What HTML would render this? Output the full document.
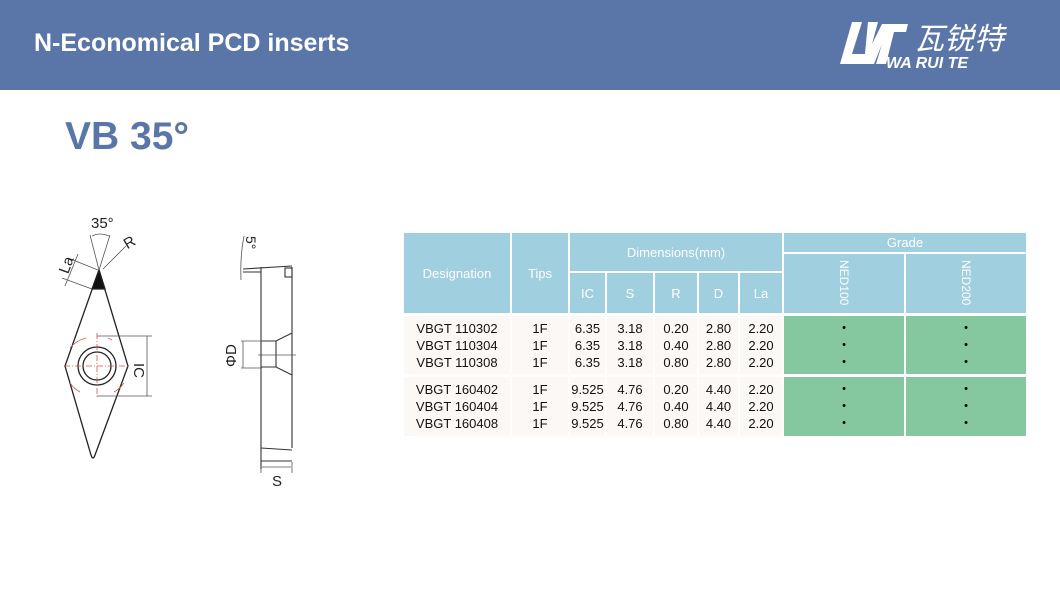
<!DOCTYPE html>
<html><head><meta charset="utf-8"><style>
body{margin:0;width:1060px;height:600px;background:#fff;position:relative;overflow:hidden;font-family:"Liberation Sans","Noto Sans CJK SC",sans-serif}
.hdr{position:absolute;left:0;top:0;width:1060px;height:90px;background:#5a76a8}
.hdr .t{position:absolute;left:34px;top:29px;color:#fff;font-size:25px;font-weight:bold}
.big{position:absolute;left:65px;top:115px;color:#5a76a8;font-size:39px;font-weight:bold}
.c{position:absolute;display:flex;align-items:center;justify-content:center;font-size:13px}
.h{background:#a0cfe0;color:#fff;font-size:13px}
.b{background:#fbf8f5;color:#111;flex-direction:column;line-height:17px}
.g{background:#85c8a0;flex-direction:column;line-height:17px;font-size:11px}
.v{writing-mode:vertical-rl;font-size:12px}
</style></head><body>
<div class="hdr"><div class="t">N-Economical PCD inserts</div>
<svg style="position:absolute;left:838px;top:14px" width="200" height="60">
<polygon points="14,8 24,8 14,40 30,40 27,50 2,50" fill="#fff"/>
<polygon points="30,8 40,8 34,30 44,10 70,10 68,18 56,18 48,50 38,50 44,30 36,50 26,50" fill="#fff"/>
<text x="76" y="35" fill="#fff" font-size="30" font-style="italic" font-family="Noto Sans CJK SC,sans-serif">瓦锐特</text>
<text x="48" y="54" fill="#fff" font-size="16" font-weight="bold" font-style="italic">WA RUI TE</text>
</svg></div>
<div class="big">VB 35°</div>
<svg style="position:absolute;left:0;top:0" width="400" height="600" font-family="Liberation Sans,sans-serif">
<g stroke="#222" fill="none" stroke-width="1.3">
<path d="M99,270 L128,366 L95,455 Q93,461 91,455 L65,366 Z"/>
<polygon points="99,270 105,289 92,289" fill="#111"/>
<circle cx="97" cy="366" r="19"/><circle cx="97" cy="366" r="14"/>
</g>
<g stroke="#555" stroke-width="0.8" fill="none">
<line x1="99" y1="270" x2="90" y2="235"/><line x1="99" y1="270" x2="110" y2="235"/>
<path d="M92,236 Q100,232 109,236"/>
<line x1="103" y1="269" x2="126" y2="246"/>
<line x1="92" y1="289" x2="62" y2="278"/><line x1="98" y1="270" x2="68" y2="258"/>
<line x1="65" y1="286" x2="78" y2="254"/>
<line x1="97" y1="336" x2="152" y2="336"/><line x1="97" y1="396" x2="152" y2="396"/>
<line x1="147" y1="336" x2="147" y2="396"/>
</g>
<g stroke="#e05050" stroke-width="0.8" fill="none">
<line x1="64" y1="366" x2="130" y2="366" stroke-dasharray="6,2,1,2"/>
<line x1="97" y1="333" x2="97" y2="399" stroke-dasharray="6,2,1,2"/>
<path d="M70,348 A30,30 0 0 1 86,338"/><path d="M108,338 A30,30 0 0 1 112,340"/>
<path d="M70,383 A30,30 0 0 0 80,392"/><path d="M114,392 A30,30 0 0 0 124,383"/>
</g>
<text x="91" y="228" font-size="15" fill="#222">35°</text>
<text x="124" y="247" font-size="15" fill="#222" transform="rotate(-30 130 242)">R</text>
<text x="58" y="276" font-size="15" fill="#222" transform="rotate(-70 62 268)">La</text>
<text x="137" y="380" font-size="15" fill="#222" transform="rotate(90 144 370)">IC</text>
<g stroke="#333" stroke-width="1.1" fill="none">
<line x1="261" y1="267" x2="261" y2="469"/><line x1="292" y1="267" x2="292" y2="448"/>
<line x1="243" y1="269" x2="292" y2="266"/><line x1="243" y1="272" x2="261" y2="272"/>
<rect x="285" y="268" width="7" height="9"/>
<path d="M261,341 L276,341 L292,333 M261,367 L276,367 L292,375"/>
<line x1="276" y1="341" x2="276" y2="367"/>
<line x1="261" y1="448" x2="292" y2="450"/><line x1="261" y1="461" x2="292" y2="461"/>
</g>
<g stroke="#555" stroke-width="0.8" fill="none">
<line x1="241" y1="341" x2="262" y2="341"/><line x1="241" y1="368" x2="262" y2="368"/>
<line x1="243" y1="341" x2="243" y2="368"/>
<line x1="258" y1="355" x2="296" y2="355"/>
<line x1="261" y1="469" x2="261" y2="473"/><line x1="292" y1="462" x2="292" y2="473"/>
<line x1="262" y1="467" x2="291" y2="467"/>
<path d="M241,280 Q240,255 244,236"/>
</g>
<text x="214" y="365" font-size="15" fill="#222" transform="rotate(-90 226 355)">ΦD</text>
<text x="242" y="248" font-size="14" fill="#222" transform="rotate(90 250 244)">5°</text>
<text x="272" y="486" font-size="15" fill="#222">S</text>
</svg>
<div class="c h" style="left:404px;top:233px;width:106px;height:80px">Designation</div>
<div class="c h" style="left:512px;top:233px;width:56px;height:80px">Tips</div>
<div class="c h" style="left:570px;top:233px;width:212px;height:38px">Dimensions(mm)</div>
<div class="c h" style="left:570px;top:273px;width:35px;height:40px">IC</div>
<div class="c h" style="left:607px;top:273px;width:46px;height:40px">S</div>
<div class="c h" style="left:655px;top:273px;width:42px;height:40px">R</div>
<div class="c h" style="left:699px;top:273px;width:39px;height:40px">D</div>
<div class="c h" style="left:740px;top:273px;width:42px;height:40px">La</div>
<div class="c h" style="left:784px;top:233px;width:242px;height:19px;font-size:13px">Grade</div>
<div class="c h" style="left:784px;top:254px;width:120px;height:59px;align-items:flex-start;padding-top:6px;box-sizing:border-box"><span class="v">NED100</span></div>
<div class="c h" style="left:906px;top:254px;width:120px;height:59px;align-items:flex-start;padding-top:6px;box-sizing:border-box"><span class="v">NED200</span></div>

<div class="c b" style="left:404px;top:316px;width:106px;height:58px"><div>VBGT 110302</div><div>VBGT 110304</div><div>VBGT 110308</div></div>
<div class="c b" style="left:512px;top:316px;width:56px;height:58px"><div>1F</div><div>1F</div><div>1F</div></div>
<div class="c b" style="left:570px;top:316px;width:35px;height:58px"><div>6.35</div><div>6.35</div><div>6.35</div></div>
<div class="c b" style="left:607px;top:316px;width:46px;height:58px"><div>3.18</div><div>3.18</div><div>3.18</div></div>
<div class="c b" style="left:655px;top:316px;width:42px;height:58px"><div>0.20</div><div>0.40</div><div>0.80</div></div>
<div class="c b" style="left:699px;top:316px;width:39px;height:58px"><div>2.80</div><div>2.80</div><div>2.80</div></div>
<div class="c b" style="left:740px;top:316px;width:42px;height:58px"><div>2.20</div><div>2.20</div><div>2.20</div></div>
<div class="c g" style="left:784px;top:316px;width:120px;height:58px"><div>•</div><div>•</div><div>•</div></div>
<div class="c g" style="left:906px;top:316px;width:120px;height:58px"><div>•</div><div>•</div><div>•</div></div>

<div class="c b" style="left:404px;top:377px;width:106px;height:59px"><div>VBGT 160402</div><div>VBGT 160404</div><div>VBGT 160408</div></div>
<div class="c b" style="left:512px;top:377px;width:56px;height:59px"><div>1F</div><div>1F</div><div>1F</div></div>
<div class="c b" style="left:570px;top:377px;width:35px;height:59px"><div>9.525</div><div>9.525</div><div>9.525</div></div>
<div class="c b" style="left:607px;top:377px;width:46px;height:59px"><div>4.76</div><div>4.76</div><div>4.76</div></div>
<div class="c b" style="left:655px;top:377px;width:42px;height:59px"><div>0.20</div><div>0.40</div><div>0.80</div></div>
<div class="c b" style="left:699px;top:377px;width:39px;height:59px"><div>4.40</div><div>4.40</div><div>4.40</div></div>
<div class="c b" style="left:740px;top:377px;width:42px;height:59px"><div>2.20</div><div>2.20</div><div>2.20</div></div>
<div class="c g" style="left:784px;top:377px;width:120px;height:59px"><div>•</div><div>•</div><div>•</div></div>
<div class="c g" style="left:906px;top:377px;width:120px;height:59px"><div>•</div><div>•</div><div>•</div></div>
</body></html>
